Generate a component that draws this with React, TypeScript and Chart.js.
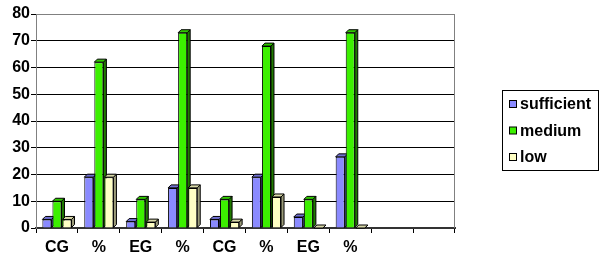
import React, { useEffect, useRef } from "react";
import { Chart, registerables } from "chart.js";

Chart.register(...registerables);

const categories = ["CG", "%", "EG", "%", "CG", "%", "EG", "%", "", ""];
const sufficient = [3.2, 19, 2.4, 15, 3.2, 19, 4.1, 26.6, null, null];
const medium = [10, 62, 10.7, 73, 10.7, 68, 10.7, 73, null, null];
const low = [3.2, 19, 2.2, 15, 2.2, 11.6, 0, 0, null, null];
const seriesNames = ["sufficient", "medium", "low"];
const yTicks = [0, 10, 20, 30, 40, 50, 60, 70, 80];

const FRONT = ["#8A8AFF", "#3CF000", "#FFFFC4"];
const SIDE = ["#4A4A8E", "#1F7A00", "#9C9C7A"];
const TOP = ["#7070D0", "#30C800", "#D8D8A8"];
const FONT = "'Liberation Sans', Arial, sans-serif";

const depthPlugin = {
  id: "depth3d",
  beforeDatasetsDraw(chart: any) {
    const ctx = chart.ctx;
    const d = 3;
    ctx.save();
    ctx.lineWidth = 1;
    ctx.strokeStyle = "#000";
    chart.data.datasets.forEach((ds: any, i: number) => {
      const meta = chart.getDatasetMeta(i);
      meta.data.forEach((el: any, j: number) => {
        const v = ds.data[j];
        if (v === null || v === undefined) return;
        const p = el.getProps(["x", "y", "base", "width"], true);
        const l = p.x - p.width / 2;
        const r = p.x + p.width / 2;
        const t = p.y;
        const b = p.base;
        ctx.fillStyle = SIDE[i];
        ctx.beginPath();
        ctx.moveTo(r, b);
        ctx.lineTo(r + d, b - d);
        ctx.lineTo(r + d, t - d);
        ctx.lineTo(r, t);
        ctx.closePath();
        ctx.fill();
        ctx.stroke();
        ctx.fillStyle = TOP[i];
        ctx.beginPath();
        ctx.moveTo(l, t);
        ctx.lineTo(l + d, t - d);
        ctx.lineTo(r + d, t - d);
        ctx.lineTo(r, t);
        ctx.closePath();
        ctx.fill();
        ctx.stroke();
      });
    });
    ctx.restore();
  },
};

const framePlugin = {
  id: "frame",
  afterDraw(chart: any) {
    const ctx = chart.ctx;
    const a = chart.chartArea;
    ctx.save();
    ctx.strokeStyle = "#808080";
    ctx.lineWidth = 1;
    ctx.beginPath();
    ctx.moveTo(Math.round(a.right) - 0.5, a.top);
    ctx.lineTo(Math.round(a.right) - 0.5, a.bottom);
    ctx.stroke();
    const bx = 502.5, by = 90.5, bw = 96, bh = 80;
    ctx.strokeStyle = "#000";
    ctx.fillStyle = "#fff";
    ctx.fillRect(bx, by, bw, bh);
    ctx.strokeRect(bx, by, bw, bh);
    const ys = [104, 130.5, 157];
    ctx.font = "bold 16px " + FONT;
    ctx.textBaseline = "middle";
    ctx.textAlign = "left";
    chart.data.datasets.forEach((ds: any, i: number) => {
      ctx.fillStyle = FRONT[i];
      ctx.fillRect(509.5, ys[i] - 3.5, 7, 7);
      ctx.strokeStyle = "#000";
      ctx.strokeRect(509.5, ys[i] - 3.5, 7, 7);
      ctx.fillStyle = "#000";
      ctx.fillText(ds.label, 520, ys[i] + 1);
    });
    ctx.restore();
  },
};

export default function App() {
  const ref = useRef<HTMLCanvasElement>(null);
  useEffect(() => {
    if (!ref.current) return;
    const series = [sufficient, medium, low];
    const chart = new Chart(ref.current, {
      type: "bar",
      data: {
        labels: categories,
        datasets: series.map((s, i) => ({
          label: seriesNames[i],
          data: s,
          backgroundColor: FRONT[i],
          borderColor: "#000",
          borderWidth: 1,
          categoryPercentage: 0.72,
          barPercentage: 0.9,
        })),
      },
      options: {
        responsive: false,
        animation: false,
        layout: { padding: { left: 0, right: 153, top: 14, bottom: 0 } },
        plugins: { legend: { display: false }, tooltip: { enabled: false } },
        scales: {
          x: {
            afterFit: (s: any) => { s.height = 30; },
            grid: { offset: true, drawOnChartArea: false, tickLength: 5, color: "#000" },
            border: { color: "#333", width: 2 },
            ticks: { color: "#000", font: { family: FONT, size: 16, weight: "bold" }, padding: 5 },
          },
          y: {
            min: 0,
            max: 80,
            afterFit: (s: any) => { s.width = 36; },
            afterBuildTicks: (s: any) => { s.ticks = yTicks.map((v) => ({ value: v })); },
            grid: {
              color: (c: any) => (c.tick && c.tick.value === 80 ? "#808080" : "#000"),
              tickColor: "#000",
              tickLength: 5,
            },
            border: { color: "#808080", width: 1 },
            ticks: { color: "#000", font: { family: FONT, size: 16, weight: "bold" }, padding: 1 },
          },
        },
      },
      plugins: [depthPlugin, framePlugin],
    } as any);
    return () => chart.destroy();
  }, []);
  return (
    <div style={{ position: "fixed", left: 0, top: 0, width: 608, height: 258, background: "#fff" }}>
      <canvas ref={ref} width={608} height={258} />
    </div>
  );
}
